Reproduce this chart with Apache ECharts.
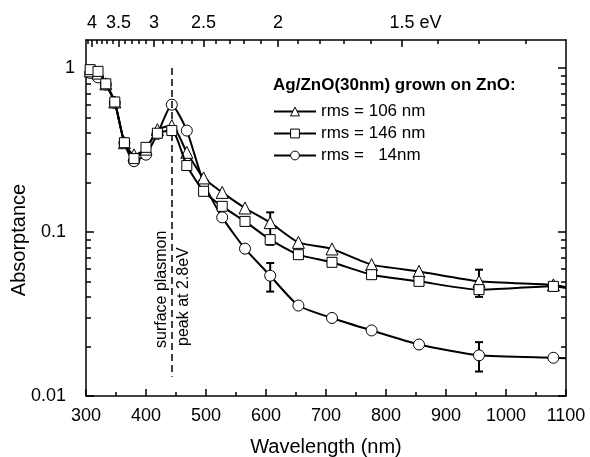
<!DOCTYPE html>
<html>
<head>
<meta charset="utf-8">
<script src="https://cdn.jsdelivr.net/npm/echarts@6/dist/echarts.min.js"></script>
<style>html,body{margin:0;padding:0;background:#fff}#c{width:590px;height:457px}</style>
</head>
<body>
<div id="c"></div>
<script>
// Marker wavelengths (nm)
const wavelengths = [307, 320, 333, 348, 364, 380, 400, 419, 443, 468, 496, 527, 565, 607, 654, 710, 776, 855, 955, 1079];
// Absorptance values at the marker wavelengths
const rms106 = [0.96, 0.93, 0.80, 0.62, 0.35, 0.295, 0.32, 0.42, 0.445, 0.306, 0.2135, 0.1743, 0.140, 0.114, 0.0864, 0.0788, 0.0632, 0.0575, 0.050, 0.0476];
const rms146 = [0.976, 0.953, 0.80, 0.62, 0.35, 0.28, 0.328, 0.40, 0.415, 0.254, 0.177, 0.1433, 0.116, 0.0898, 0.0727, 0.0653, 0.0549, 0.050, 0.0445, 0.0466];
const rms14  = [0.932, 0.876, 0.791, 0.612, 0.349, 0.270, 0.296, 0.396, 0.597, 0.415, 0.199, 0.1227, 0.0791, 0.0541, 0.0356, 0.0299, 0.0251, 0.0206, 0.0177, 0.0171];
// line ends (no marker) at 300 nm and 1100 nm
const lineEndsX = [300, 1100];
const ends106 = [0.97, 0.046];
const ends146 = [0.98, 0.0455];
const ends14  = [0.95, 0.0170];
// error bars
const errX  = [607, 607, 955, 955];
const errLo = [0.0835, 0.0433, 0.0402, 0.0141];
const errHi = [0.1317, 0.0647, 0.0589, 0.0213];
// axes ticks
const yMajor = [0.01, 0.1, 1];
const yMinor = [0.02,0.03,0.04,0.05,0.06,0.07,0.08,0.09,0.2,0.3,0.4,0.5,0.6,0.7,0.8,0.9];
const eVMajor = [4, 3.5, 3, 2.5, 2, 1.5];
const eVMinor = [4.1,3.9,3.8,3.7,3.6,3.4,3.3,3.2,3.1,2.9,2.8,2.7,2.6,2.4,2.3,2.2,2.1,1.9,1.8,1.7,1.6,1.4,1.3,1.2];
const peakEV = 2.8;
const seriesNames = ['rms = 106 nm', 'rms = 146 nm', 'rms =   14nm'];

const FONT = 'Liberation Sans, Arial, Helvetica, sans-serif';
const toNm = e => 1240 / e;

function buildData(vals, ends) {
  const d = [{value: [lineEndsX[0], ends[0]], symbol: 'none'}];
  wavelengths.forEach((x, i) => d.push({value: [x, vals[i]]}));
  d.push({value: [lineEndsX[1], ends[1]], symbol: 'none'});
  return d;
}

const chart = echarts.init(document.getElementById('c'), null, {renderer: 'canvas'});
const axisLine = {show: true, lineStyle: {color: '#000', width: 1.5}};
const baseY = {type: 'log', logBase: 10, min: 0.01, max: 1.48, splitLine: {show: false}};
const baseX = {type: 'value', min: 300, max: 1100, splitLine: {show: false}};

function lineSeries(name, vals, ends, symbol, size, z) {
  return {
    name, type: 'line', data: buildData(vals, ends), smooth: 0.2,
    symbol, symbolSize: size, showAllSymbol: true, z,
    lineStyle: {color: '#000', width: 2},
    itemStyle: {color: '#fff', borderColor: '#000', borderWidth: 1},
    emphasis: {disabled: true}, animation: false
  };
}

const s14 = lineSeries(seriesNames[2], rms14, ends14, 'circle', 11, 4);
s14.markLine = {
  silent: true, symbol: ['none', 'none'], animation: false,
  lineStyle: {type: [7, 4], width: 1.5, color: '#000'},
  label: {show: false},
  data: [[{coord: [toNm(peakEV), 1.0]}, {coord: [toNm(peakEV), 0.0131]}]]
};

const option = {
  animation: false,
  textStyle: {fontFamily: FONT},
  grid: {left: 86, right: 24, top: 40, bottom: 61, containLabel: false, outerBoundsMode: 'none'},
  title: {
    text: 'Ag/ZnO(30nm) grown on ZnO:', left: 273, top: 77, padding: 0,
    textStyle: {fontSize: 17, fontWeight: 'bold', color: '#000', fontFamily: FONT}
  },
  legend: {
    data: seriesNames, orient: 'vertical', left: 273, top: 103, padding: 0,
    itemWidth: 42, itemHeight: 11, itemGap: 5,
    textStyle: {fontSize: 17, color: '#000', fontFamily: FONT},
    itemStyle: {color: '#fff', borderColor: '#000', borderWidth: 1},
    lineStyle: {color: '#000', width: 2},
    selectedMode: false
  },
  xAxis: [
    Object.assign({}, baseX, {
      position: 'bottom', interval: 100, axisLine,
      axisTick: {inside: true, length: 7, lineStyle: {color: '#000', width: 1.5}},
      minorTick: {show: true, splitNumber: 2, length: 4, lineStyle: {color: '#000', width: 1.5}},
      axisLabel: {fontSize: 18, color: '#000', margin: 11, fontFamily: FONT, formatter: v => String(v)},
      name: 'Wavelength (nm)', nameLocation: 'middle', nameGap: 41,
      nameTextStyle: {fontSize: 20, color: '#000', fontFamily: FONT}
    }),
    Object.assign({}, baseX, {
      position: 'top', axisLine,
      axisTick: {inside: true, length: 7, customValues: eVMajor.map(toNm), lineStyle: {color: '#000', width: 1.5}},
      axisLabel: {
        fontSize: 18, color: '#000', margin: 8, fontFamily: FONT,
        customValues: eVMajor.map(toNm),
        formatter: v => {
          const e = Math.round(1240 / v * 10) / 10;
          return e === 1.5 ? '{p|eV }1.5 eV' : String(e);
        },
        rich: {p: {color: 'rgba(0,0,0,0)', fontSize: 18, fontFamily: FONT}}
      }
    }),
    Object.assign({}, baseX, {
      position: 'top', axisLine: {show: false},
      axisTick: {inside: true, length: 4, customValues: eVMinor.map(toNm), lineStyle: {color: '#000', width: 1.5}},
      axisLabel: {show: false}
    })
  ],
  yAxis: [
    Object.assign({}, baseY, {
      position: 'left', axisLine,
      axisTick: {inside: true, length: 8, customValues: yMajor, lineStyle: {color: '#000', width: 1.5}},
      axisLabel: {
        fontSize: 18, color: '#000', margin: 11, fontFamily: FONT, customValues: yMajor,
        formatter: v => v > 0.5 ? '1' : (v > 0.05 ? '0.1{s|}' : '0.01{s|}'),
        rich: {s: {width: 9}}
      }
    }),
    Object.assign({}, baseY, {
      position: 'left', axisLine: {show: false},
      axisTick: {inside: true, length: 5, customValues: yMinor, lineStyle: {color: '#000', width: 1.5}},
      axisLabel: {show: false}
    }),
    Object.assign({}, baseY, {
      position: 'right', axisLine,
      axisTick: {inside: true, length: 8, customValues: yMajor, lineStyle: {color: '#000', width: 1.5}},
      axisLabel: {show: false}
    }),
    Object.assign({}, baseY, {
      position: 'right', axisLine: {show: false},
      axisTick: {inside: true, length: 5, customValues: yMinor, lineStyle: {color: '#000', width: 1.5}},
      axisLabel: {show: false}
    })
  ],
  series: [
    {
      type: 'custom', name: 'err', z: 3, animation: false, silent: true,
      data: errX.map((x, i) => [x, errLo[i], errHi[i]]),
      encode: {x: 0, y: [1, 2]},
      renderItem: (params, api) => {
        const x = api.value(0);
        const p1 = api.coord([x, api.value(1)]);
        const p2 = api.coord([x, api.value(2)]);
        const w = 4;
        const st = {stroke: '#000', lineWidth: 2};
        return {type: 'group', children: [
          {type: 'line', shape: {x1: p1[0], y1: p1[1], x2: p2[0], y2: p2[1]}, style: st},
          {type: 'line', shape: {x1: p1[0]-w, y1: p1[1], x2: p1[0]+w, y2: p1[1]}, style: st},
          {type: 'line', shape: {x1: p2[0]-w, y1: p2[1], x2: p2[0]+w, y2: p2[1]}, style: st}
        ]};
      }
    },
    lineSeries(seriesNames[0], rms106, ends106, 'triangle', 12, 5),
    lineSeries(seriesNames[1], rms146, ends146, 'rect', 10, 6),
    s14
  ],
  graphic: [
    {type: 'text', x: 19, y: 240, rotation: Math.PI / 2,
     style: {text: 'Absorptance', font: '20px ' + FONT, fill: '#000', align: 'center', verticalAlign: 'middle'}},
    {type: 'text', x: 162, y: 348, rotation: Math.PI / 2,
     style: {text: 'surface plasmon', font: '16px ' + FONT, fill: '#000', align: 'left', verticalAlign: 'middle'}},
    {type: 'text', x: 184, y: 346, rotation: Math.PI / 2,
     style: {text: 'peak at 2.8eV', font: '16px ' + FONT, fill: '#000', align: 'left', verticalAlign: 'middle'}}
  ]
};
chart.setOption(option);
</script>
</body>
</html>
